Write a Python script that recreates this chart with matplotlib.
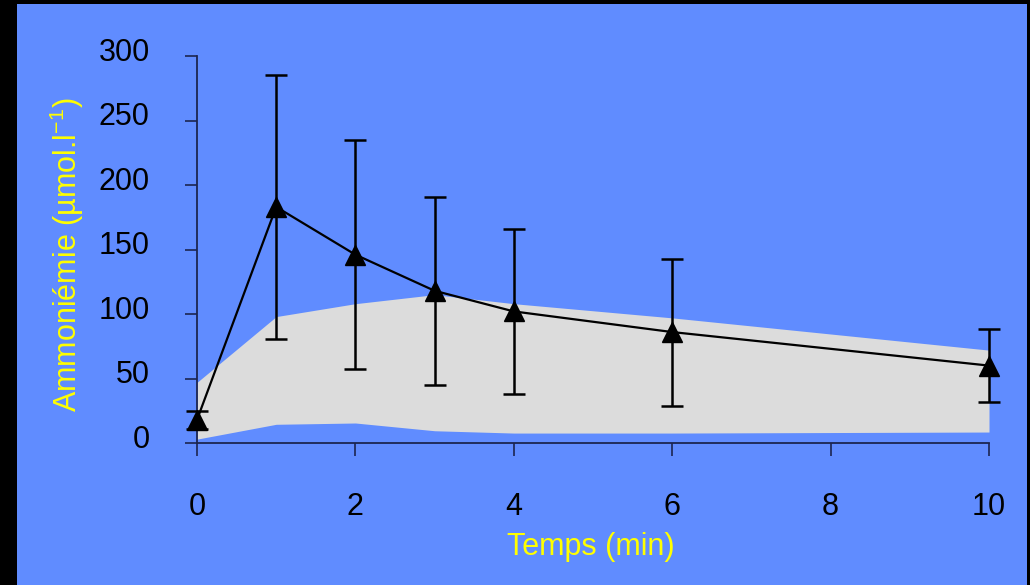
import matplotlib.pyplot as plt
import matplotlib.transforms as mtransforms
from matplotlib.patches import Rectangle

plt.rcParams['font.family'] = ['Liberation Sans', 'DejaVu Sans']
plt.rcParams['mathtext.fontset'] = 'custom'
plt.rcParams['mathtext.rm'] = 'Liberation Sans'
plt.rcParams['mathtext.default'] = 'regular'

# data
temps = [0, 1, 2, 3, 4, 6, 10]
ammonium = [18, 183, 146, 118, 102, 86, 60]
ammonium_sd = [7, 102, 89, 73, 64, 57, 28]

# reference zone (grey band)
band_x = [0, 1, 2, 3, 4, 6, 10]
band_low = [3, 14.5, 15.5, 9.5, 7.7, 7.7, 8.5]
band_high = [47, 98, 108, 115, 108, 97, 72]

xticks = [0, 2, 4, 6, 8, 10]
yticks = [0, 50, 100, 150, 200, 250, 300]

blue = '#608CFF'
spine_col = '#1c2550'

fig = plt.figure(figsize=(10.3, 5.85), dpi=100)
fig.patch.set_facecolor('black')
fig.patches.append(Rectangle((17 / 1030, 0), 1010 / 1030, 1 - 4 / 585,
                             transform=fig.transFigure, facecolor=blue,
                             edgecolor='none', zorder=-10))

ax = fig.add_axes([197 / 1030, 1 - 443 / 585, 792 / 1030, 387 / 585])
ax.set_facecolor('none')

ax.fill_between(band_x, band_low, band_high, color='#DCDCDC', linewidth=0, zorder=1)
ax.errorbar(temps, ammonium, yerr=ammonium_sd, color='black', marker='^',
            markersize=14, linewidth=1.6, elinewidth=1.8, capsize=8,
            capthick=1.8, zorder=3, clip_on=False)

ax.set_xlim(0, 10)
ax.set_ylim(0, 300)
ax.set_xticks(xticks)
ax.set_yticks(yticks)

for s in ['top', 'right']:
    ax.spines[s].set_visible(False)
for s in ['left', 'bottom']:
    ax.spines[s].set_color(spine_col)
    ax.spines[s].set_linewidth(1.3)

ax.tick_params(axis='both', direction='out', length=9, width=1.2,
               color=spine_col, labelsize=22, labelcolor='black')
ax.tick_params(axis='x', pad=26)
ax.tick_params(axis='y', pad=25)

# y tick labels sit a bit above their ticks
offset = mtransforms.ScaledTranslation(0, 5 / 72, fig.dpi_scale_trans)
for lab in ax.get_yticklabels():
    lab.set_transform(lab.get_transform() + offset)

fig.text(591 / 1030, 1 - 547 / 585, 'Temps (min)', color='yellow',
         fontsize=22, ha='center', va='center')
fig.text(67 / 1030, 1 - 255 / 585, 'Ammoniémie (µmol.l$^{-1}$)', color='yellow',
         fontsize=22, ha='center', va='center', rotation=90)

fig.savefig('out.png', dpi=100, facecolor=fig.get_facecolor())
